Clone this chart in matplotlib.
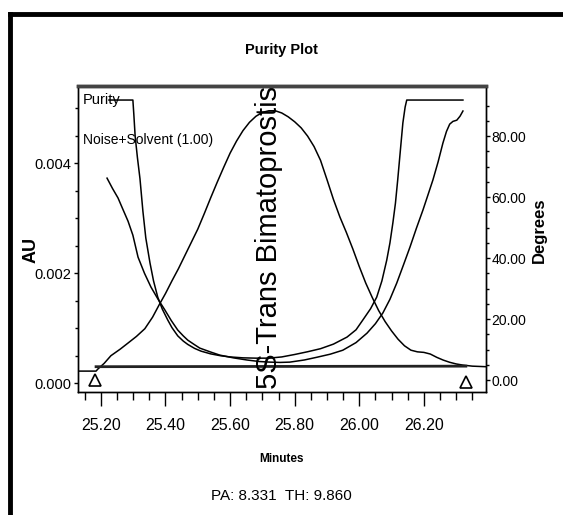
import matplotlib
matplotlib.use("Agg")
import matplotlib.pyplot as plt
from matplotlib.lines import Line2D

# chromatogram (AU, left axis)
peak_min = [25.129, 25.185, 25.191, 25.21, 25.231, 25.26, 25.284, 25.31, 25.336, 25.36,
            25.38, 25.40, 25.42, 25.44, 25.46, 25.48, 25.50, 25.52, 25.54, 25.56,
            25.58, 25.60, 25.62, 25.64, 25.66, 25.68, 25.70, 25.72, 25.74, 25.76,
            25.78, 25.80, 25.82, 25.84, 25.86, 25.88, 25.90, 25.92, 25.94, 25.96,
            25.98, 26.00, 26.02, 26.04, 26.06, 26.08, 26.10, 26.12, 26.14, 26.16,
            26.18, 26.20, 26.22, 26.24, 26.26, 26.28, 26.30, 26.32, 26.35, 26.392]
peak_au = [0.00022, 0.00022, 0.00026, 0.00036, 0.00050, 0.00062, 0.00073, 0.00085, 0.00099, 0.00120,
           0.00142, 0.00163, 0.00186, 0.00208, 0.00232, 0.00256, 0.00280, 0.00308, 0.00337, 0.00365,
           0.00392, 0.00418, 0.00440, 0.00459, 0.00474, 0.00485, 0.00492, 0.00495, 0.00495, 0.00491,
           0.00484, 0.00475, 0.00464, 0.00449, 0.00430, 0.00405, 0.00370, 0.00334, 0.00302, 0.00274,
           0.00244, 0.00212, 0.00182, 0.00156, 0.00132, 0.00112, 0.00095, 0.00080, 0.00068, 0.00060,
           0.00057, 0.00056, 0.00053, 0.00047, 0.00042, 0.00038, 0.00035, 0.00033, 0.00031, 0.00030]

# purity angle (degrees, right axis)
purity_min = [25.225, 25.299, 25.302, 25.306, 25.313, 25.321, 25.330, 25.339, 25.352, 25.363,
              25.376, 25.39, 25.407, 25.42, 25.438, 25.455, 25.469, 25.49, 25.51, 25.54,
              25.57, 25.60, 25.64, 25.68, 25.72, 25.76, 25.80, 25.84, 25.88, 25.92,
              25.962, 25.99, 26.011, 26.035, 26.054, 26.07, 26.085, 26.095, 26.104, 26.112,
              26.119, 26.127, 26.135, 26.142, 26.147, 26.321]
purity_deg = [91.8, 91.8, 87.0, 80.0, 73.0, 66.0, 55.4, 46.6, 38.4, 32.5,
              27.2, 23.3, 19.7, 17.2, 14.5, 12.8, 11.7, 10.4, 9.5, 8.6,
              8.0, 7.6, 7.3, 7.2, 7.2, 7.6, 8.4, 9.3, 10.3, 11.8,
              14.1, 16.5, 19.7, 23.4, 27.2, 32.5, 39.3, 45.0, 51.5, 58.0,
              65.6, 75.0, 84.3, 89.5, 91.8, 91.8]

# noise + solvent threshold (degrees, right axis)
noise_min = [25.219, 25.236, 25.253, 25.268, 25.284, 25.299, 25.315, 25.335, 25.355, 25.377,
             25.398, 25.418, 25.438, 25.455, 25.469, 25.49, 25.506, 25.54, 25.568, 25.61,
             25.652, 25.69, 25.723, 25.755, 25.785, 25.83, 25.869, 25.91, 25.949, 25.99,
             26.024, 26.05, 26.073, 26.095, 26.116, 26.137, 26.157, 26.177, 26.197, 26.213,
             26.228, 26.244, 26.259, 26.270, 26.280, 26.29, 26.302, 26.312, 26.321]
noise_deg = [66.2, 62.8, 59.7, 56.0, 52.1, 47.5, 40.3, 35.0, 30.5, 26.5,
             23.0, 19.5, 16.4, 14.5, 13.1, 11.6, 10.5, 9.2, 8.2, 7.3,
             6.6, 6.1, 5.9, 5.8, 5.9, 6.6, 7.5, 8.5, 9.8, 12.3,
             15.4, 18.5, 22.0, 26.5, 31.8, 37.8, 43.6, 49.8, 55.7, 60.8,
             65.6, 71.5, 77.7, 81.5, 83.9, 84.8, 85.2, 86.5, 88.2]

# peak start / end
marks_min = [25.182, 26.330]
marks_au = [0.00005, 0.00002]
base_min = [25.185, 26.330]
base_au = [0.00030, 0.00031]

peak_name = "5S-Trans Bimatoprostis"
x_ticks = [25.20, 25.40, 25.60, 25.80, 26.00, 26.20]
au_ticks = [0.000, 0.002, 0.004]
deg_ticks = [0.0, 20.0, 40.0, 60.0, 80.0]

plt.rcParams["font.family"] = ["Liberation Sans", "DejaVu Sans"]

fig = plt.figure(figsize=(5.63, 5.15), dpi=100)
ax = fig.add_axes([0.1385, 0.2388, 0.7245, 0.5942])
ax2 = ax.twinx()

ax.plot(peak_min, peak_au, color="black", lw=1.1)
ax.plot(base_min, base_au, color="#222222", lw=2.0)
ax.plot(marks_min, marks_au, ls="none", marker="^", ms=9, mfc="white",
        mec="black", mew=1.2)
ax2.plot(purity_min, purity_deg, color="black", lw=1.1)
ax2.plot(noise_min, noise_deg, color="black", lw=1.1)

ax.set_xlim(25.129, 26.392)
ax.set_ylim(-0.00016, 0.00540)
ax2.set_ylim(-3.9, 96.4)

ax.set_xticks(x_ticks)
ax.set_xticklabels([f"{v:.2f}" for v in x_ticks])
ax.set_xticks([25.15 + 0.05 * i for i in range(25)], minor=True)
ax.set_yticks(au_ticks)
ax.set_yticklabels([f"{v:.3f}" for v in au_ticks])
ax.set_yticks([0.0005 * i for i in range(11)], minor=True)
ax2.set_yticks(deg_ticks)
ax2.set_yticklabels([f"{v:.2f}" for v in deg_ticks])
ax2.set_yticks([5.0 * i for i in range(19)], minor=True)

ax.tick_params(axis="x", which="major", labelsize=11.5, length=10, width=1, pad=9)
ax.tick_params(axis="x", which="minor", length=6, width=1)
ax.tick_params(axis="y", which="major", labelsize=10.5, length=3, width=1, pad=2)
ax.tick_params(axis="y", which="minor", length=2, width=1)
ax2.tick_params(axis="y", which="major", labelsize=10, length=3, width=1, pad=1)
ax2.tick_params(axis="y", which="minor", length=2, width=1)

for a in (ax, ax2):
    for s in ("left", "right", "bottom"):
        a.spines[s].set_linewidth(1.0)
    a.spines["top"].set_linewidth(2.5)
    a.spines["top"].set_color("#444444")

ax.set_xlabel("Minutes", fontsize=8.5, fontweight="bold")
ax.xaxis.set_label_coords(0.5, -0.2)
ax.set_ylabel("AU", fontsize=13, fontweight="bold")
ax.yaxis.set_label_coords(-0.093, 0.464)
ax2.set_ylabel("Degrees", fontsize=12, fontweight="bold")
ax2.yaxis.set_label_coords(1.112, 0.53)

ax.text(0.012, 0.955, "Purity", transform=ax.transAxes, fontsize=10.5,
        ha="left", va="center")
ax.text(0.012, 0.825, "Noise+Solvent (1.00)", transform=ax.transAxes, fontsize=10,
        ha="left", va="center")
ax.text(25.722, -0.0001, peak_name, rotation=90, fontsize=21, ha="center",
        va="bottom", clip_on=True)

fig.text(0.5, 0.903, "Purity Plot", ha="center", va="center", fontsize=10.5,
         fontweight="bold")
fig.text(0.5, 0.037, "PA: 8.331  TH: 9.860", ha="center", va="center", fontsize=11)

# frame of the report page (top and left edges)
fig.add_artist(Line2D([0.018, 0.018], [0.0, 0.973], color="black", lw=3.5,
                      transform=fig.transFigure))
fig.add_artist(Line2D([0.018, 1.0], [0.973, 0.973], color="black", lw=3.5,
                      transform=fig.transFigure))

fig.savefig("out.png", dpi=100)
